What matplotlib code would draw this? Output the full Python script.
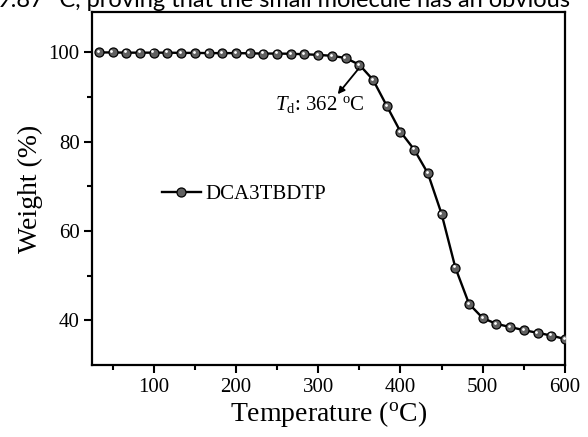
import matplotlib
matplotlib.use("Agg")
import matplotlib.pyplot as plt
from matplotlib.transforms import offset_copy
import numpy as np

# ---- data ----
temperature = [33.3, 50.0, 66.7, 83.3, 100.0, 116.7, 133.3, 150.0, 166.7, 183.3,
               200.0, 216.7, 233.3, 250.0, 266.7, 283.3, 300.0, 316.7, 333.3, 350.0,
               366.7, 383.3, 400.0, 416.7, 433.3, 450.0, 466.7, 483.3, 500.0, 516.7,
               533.3, 550.0, 566.7, 583.3, 600.0]
weight = [99.95, 99.95, 99.9, 99.9, 99.9, 99.9, 99.85, 99.85, 99.8, 99.8,
          99.8, 99.75, 99.7, 99.7, 99.65, 99.55, 99.4, 99.2, 98.7, 97.2,
          93.8, 88.0, 82.2, 78.2, 72.9, 63.8, 51.8, 43.7, 40.5, 39.2,
          38.5, 37.8, 37.2, 36.6, 35.8]
series_name = "DCA3TBDTP"
xticks = [100, 200, 300, 400, 500, 600]
yticks = [40, 60, 80, 100]
header_text = "9.87 \u00b0C, proving that the small molecule has an obvious"

plt.rcParams['font.family'] = ['Liberation Serif', 'DejaVu Serif']
plt.rcParams['mathtext.fontset'] = 'custom'
plt.rcParams['mathtext.rm'] = 'Liberation Serif'
plt.rcParams['mathtext.it'] = 'Liberation Serif:italic'

fig = plt.figure(figsize=(5.88, 4.37), dpi=100)
ax = fig.add_axes([92/588, 72/437, (565-92)/588, (425-72)/437])

ax.plot(temperature, weight, color='black', lw=1.7, marker='o', markersize=6.5,
        markerfacecolor='#606060', markeredgecolor='black', markeredgewidth=0.9,
        label=series_name, zorder=3)
hl = offset_copy(ax.transData, fig=fig, x=-1.2, y=1.2, units='dots')
ax.plot(temperature, weight, linestyle='none', marker='o', markersize=2.0,
        markerfacecolor='white', markeredgecolor='none', transform=hl, zorder=4)

ax.set_xlim(25, 600)
ax.set_ylim(30, 109)
ax.set_xticks(xticks)
ax.set_yticks(yticks)
ax.set_xticks(np.arange(50, 600, 100), minor=True)
ax.set_yticks([50, 70, 90], minor=True)
ax.tick_params(axis='both', which='major', direction='out', length=6, width=1.5,
               labelsize=15, pad=3)
ax.tick_params(axis='both', which='minor', direction='out', length=3.5, width=1.5)
for s in ax.spines.values():
    s.set_linewidth(1.6)

ax.set_xlabel("Temperature ($^{\\rm o}$C)", fontsize=20, labelpad=2)
ax.set_ylabel("Weight (%)", fontsize=20, labelpad=4)

ax.legend(loc='center left', bbox_to_anchor=(0.148, 0.484), frameon=False,
          fontsize=15, handlelength=1.85, handletextpad=0.25, borderpad=0,
          borderaxespad=0)

ax.annotate("", xy=(323.7, 90.6), xytext=(349, 96.3),
            arrowprops=dict(arrowstyle='-|>', color='black', lw=1.3,
                            mutation_scale=10, shrinkA=0, shrinkB=0))
ax.text(301.6, 88.3, "$T_{\\rm d}$: 362 $^{\\rm o}$C", fontsize=15, ha='center',
        va='center')

fig.text(-0.005, (437-7)/437, header_text, family=['Lato', 'DejaVu Sans'],
         fontsize=17, va='baseline', ha='left', color='black')

fig.savefig("out.png", dpi=100)
